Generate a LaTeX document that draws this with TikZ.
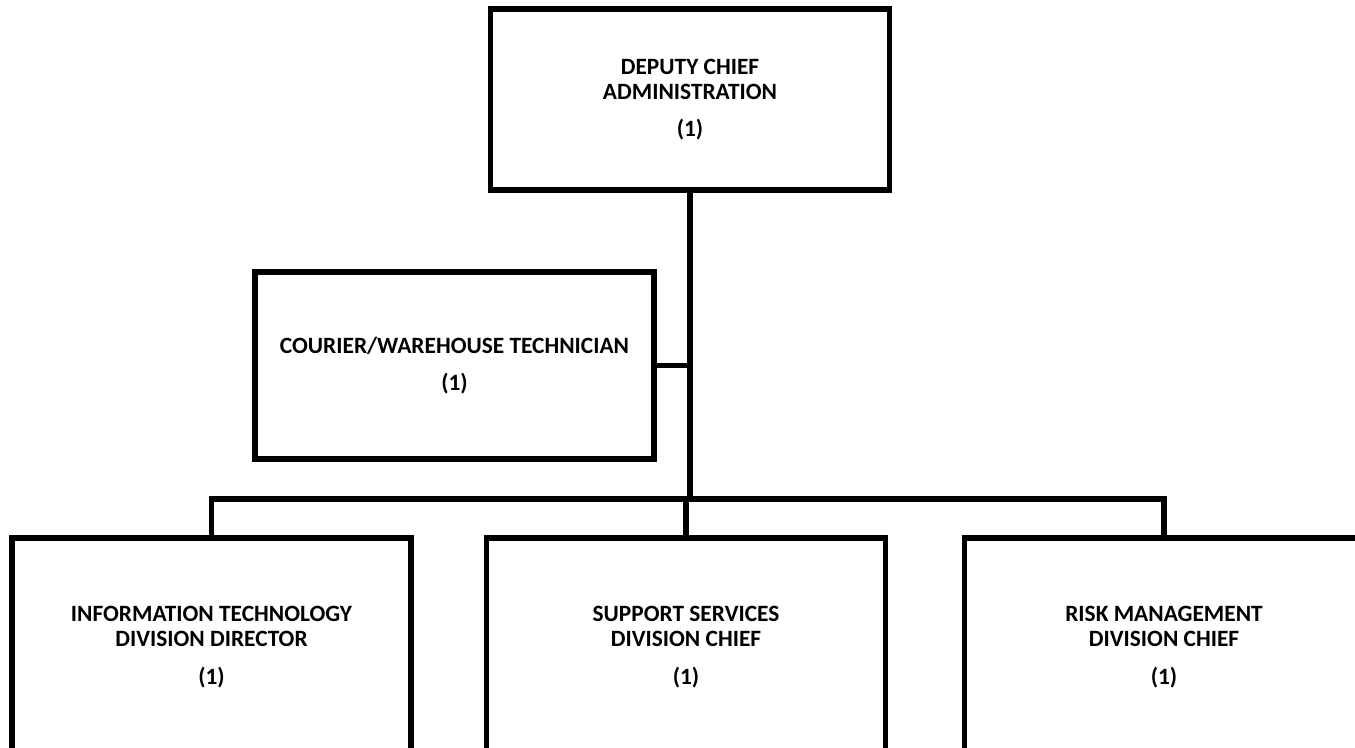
\documentclass[tikz,border=0pt]{standalone}
\usepackage{fontspec}
\setmainfont{Carlito}
\usepackage{tikz}

\begin{document}
\begin{tikzpicture}[x=0.02cm, y=-0.02cm,
     post/.style={draw, line width=2.9pt, minimum width=399*0.02cm, align=center,
       font=\fontsize{13.3}{14.2}\selectfont\bfseries, inner sep=0pt},
     link/.style={line width=2.9pt}]
     \useasboundingbox (0,0) rectangle (1355,747);
     \clip (0,0) rectangle (1355,747);

     \node[post, minimum height=181*0.02cm] (dca) at (690,99.5) {DEPUTY CHIEF\\ADMINISTRATION\\[7pt](1)};
     \node[post, minimum height=187*0.02cm] (cwt) at (454.5,365.5) {COURIER/WAREHOUSE TECHNICIAN\\[7pt](1)};

     \node[post, minimum height=218*0.02cm] (itd) at (211.5,647) {INFORMATION TECHNOLOGY\\DIVISION DIRECTOR\\[7pt](1)};
     \node[post, minimum height=218*0.02cm] (ssd) at (686,647) {SUPPORT SERVICES\\DIVISION CHIEF\\[7pt](1)};
     \node[post, minimum height=218*0.02cm] (rmd) at (1164,647) {RISK MANAGEMENT\\DIVISION CHIEF\\[7pt](1)};

     \coordinate (bus) at (690,499);
     \draw[link] (dca.south) -- (bus);
     \draw[link] (cwt.east) -- (cwt.east -| bus);
     \draw[link] (itd.north) |- (bus) -| (rmd.north);
     \draw[link] (ssd.north) -- (ssd.north |- bus);
\end{tikzpicture}
\end{document}
